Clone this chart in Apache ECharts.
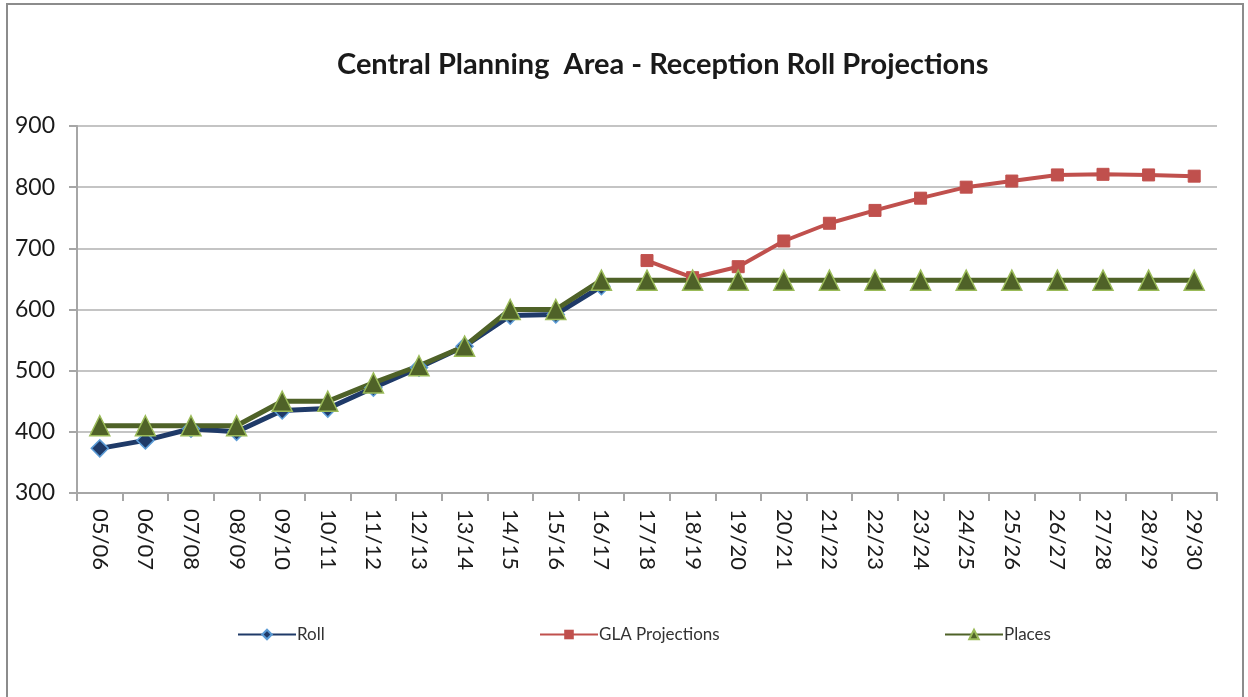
<!DOCTYPE html>
<html>
<head>
<meta charset="utf-8">
<script src="https://cdn.jsdelivr.net/npm/echarts@6/dist/echarts.min.js"></script>
<style>
  html, body { margin: 0; padding: 0; background: #fff; }
  #main { width: 1248px; height: 697px; }
</style>
</head>
<body>
<div id="main"></div>
<script>
// school years on the x axis
var years = ['05/06', '06/07', '07/08', '08/09', '09/10', '10/11', '11/12', '12/13', '13/14',
  '14/15', '15/16', '16/17', '17/18', '18/19', '19/20', '20/21', '21/22', '22/23', '23/24',
  '24/25', '25/26', '26/27', '27/28', '28/29', '29/30'];
// actual roll, only up to 16/17
var roll = [373, 386, 405, 400, 435, 438, 472, 505, 540, 590, 592, 638,
  null, null, null, null, null, null, null, null, null, null, null, null, null];
// GLA projections start at 17/18
var glaProjections = [null, null, null, null, null, null, null, null, null, null, null, null,
  680, 652, 670, 712, 741, 762, 782, 800, 810, 820, 821, 820, 818];
var places = [410, 410, 410, 410, 450, 450, 480, 508, 540, 600, 600, 648,
  648, 648, 648, 648, 648, 648, 648, 648, 648, 648, 648, 648, 648];
var yTicks = { min: 300, max: 900, step: 100 };

var FONT = 'Lato';
var chart = echarts.init(document.getElementById('main'));

// one legend per series so each sits where the original put it
function legendAt(name, left) {
  return {
    data: [name],
    left: left,
    top: 621,
    itemWidth: 58,
    itemHeight: 12,
    textStyle: { fontFamily: FONT, fontSize: 17, color: '#333', padding: [0, 0, 0, -4] }
  };
}

var option = {
  backgroundColor: '#fff',
  animation: false,
  title: {
    text: 'Central Planning  Area - Reception Roll Projections',
    left: 332,
    top: 45,
    textStyle: { fontFamily: FONT, fontSize: 29, fontWeight: 'bold', color: '#1a1a1a' }
  },
  graphic: [{
    type: 'rect',
    shape: { x: 7, y: 4, width: 1236, height: 700 },
    style: { fill: null, stroke: '#8c8c8c', lineWidth: 2 },
    silent: true
  }],
  legend: [
    legendAt('Roll', 232),
    legendAt('GLA Projections', 534),
    legendAt('Places', 939)
  ],
  grid: { left: 77, right: 31, top: 126, bottom: 204 },
  xAxis: {
    type: 'category',
    data: years,
    boundaryGap: true,
    axisLine: { lineStyle: { color: '#a6a6a6', width: 2 } },
    axisTick: { show: true, length: 8, lineStyle: { color: '#a6a6a6', width: 2 } },
    axisLabel: {
      rotate: -90,
      margin: 16,
      fontFamily: FONT,
      fontSize: 22,
      color: '#1a1a1a',
      interval: 0
    }
  },
  yAxis: {
    type: 'value',
    min: yTicks.min,
    max: yTicks.max,
    interval: yTicks.step,
    axisLine: { show: true, lineStyle: { color: '#a6a6a6', width: 2 } },
    axisTick: { show: true, length: 8, lineStyle: { color: '#a6a6a6', width: 2 } },
    splitLine: { lineStyle: { color: '#c4c4c4', width: 2 } },
    axisLabel: { fontFamily: FONT, fontSize: 23, color: '#1a1a1a', margin: 22 }
  },
  series: [{
    name: 'Roll',
    type: 'line',
    data: roll,
    symbol: 'diamond',
    symbolSize: 17,
    lineStyle: { color: '#1f3a68', width: 5 },
    itemStyle: { color: '#1f3a68', borderColor: '#5b9bd5', borderWidth: 1.5 }
  }, {
    name: 'GLA Projections',
    type: 'line',
    data: glaProjections,
    symbol: 'rect',
    symbolSize: 12,
    lineStyle: { color: '#c0504d', width: 4 },
    itemStyle: { color: '#c0504d', borderColor: '#c0504d' }
  }, {
    name: 'Places',
    type: 'line',
    data: places,
    symbol: 'triangle',
    symbolSize: 20,
    lineStyle: { color: '#4f6228', width: 5 },
    itemStyle: { color: '#4f6228', borderColor: '#9bbb59', borderWidth: 1.5 }
  }]
};

chart.setOption(option);
</script>
</body>
</html>
